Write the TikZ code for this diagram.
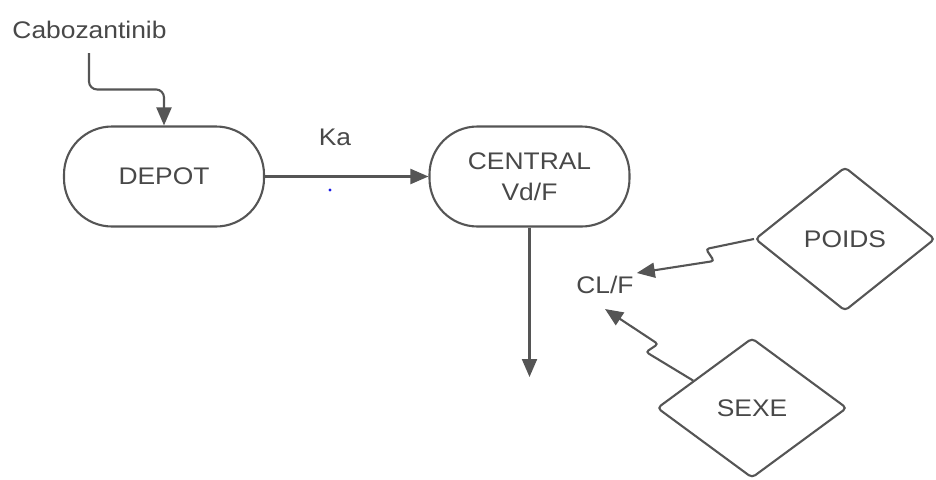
\documentclass[tikz,border=0pt]{standalone}
\usepackage{fontspec}
\setmainfont{Liberation Sans}[FakeStretch=1.1]
\usetikzlibrary{arrows.meta,shapes.geometric,calc}
\definecolor{ink}{HTML}{555555}
\definecolor{txt}{HTML}{484848}
\definecolor{dotblue}{HTML}{1A1AE6}
\begin{document}
\begin{tikzpicture}[x=1pt,y=-1pt,
  line/.style={draw=ink,line width=2.1pt},
  arrow/.style={line,-{Triangle[length=18pt,width=15pt]}},
  lbl/.style={text=txt,font=\fontsize{24}{32}\selectfont,inner sep=3pt},
  compartment/.style={lbl,line,rounded corners=48pt,minimum width=200pt,minimum height=100pt,align=center},
  covariate/.style={lbl,line,diamond,aspect=1.3,rounded corners=4pt,inner sep=0pt}
]
\useasboundingbox (0,0) rectangle (936,479);

% compartments
\node[compartment] (depot) at (164,176.5) {DEPOT};
\node[compartment] (central) at (529.5,176.5) {CENTRAL\\[-1pt]Vd/F};

% dose input
\node[lbl] (cabo) at (89.5,30) {Cabozantinib};
\coordinate (cabostart) at (89,53);
\draw[arrow,rounded corners=8pt] (cabostart) |- ([yshift=36pt]depot.north) -- (depot.north);

% absorption
\draw[arrow] (depot.east) -- (central.west);
\node[lbl] (ka) at (335,137) {Ka};
\node[circle,fill=dotblue,inner sep=0pt,minimum size=3.4pt] (dot) at (330,190) {};

% elimination
\coordinate (elim) at (530,377);
\draw[arrow] (central.south) -- (central.south |- elim);

% clearance and covariates
\node[lbl] (clf) at (605,285) {CL/F};
\node[covariate,minimum width=180pt,minimum height=144pt] (poids) at (845,239) {POIDS};
\node[covariate,minimum width=190pt,minimum height=140pt] (sexe) at (752,408) {SEXE};

\coordinate (clfin) at ([yshift=-12pt]clf.south);
\draw[arrow,rounded corners=3pt] (poids.west) -- (706,249) -- (714,261) -- (clf.north east);
\draw[arrow,rounded corners=3pt] (sexe.155) -- (646,352) -- (658,344) -- (clfin);
\end{tikzpicture}
\end{document}
